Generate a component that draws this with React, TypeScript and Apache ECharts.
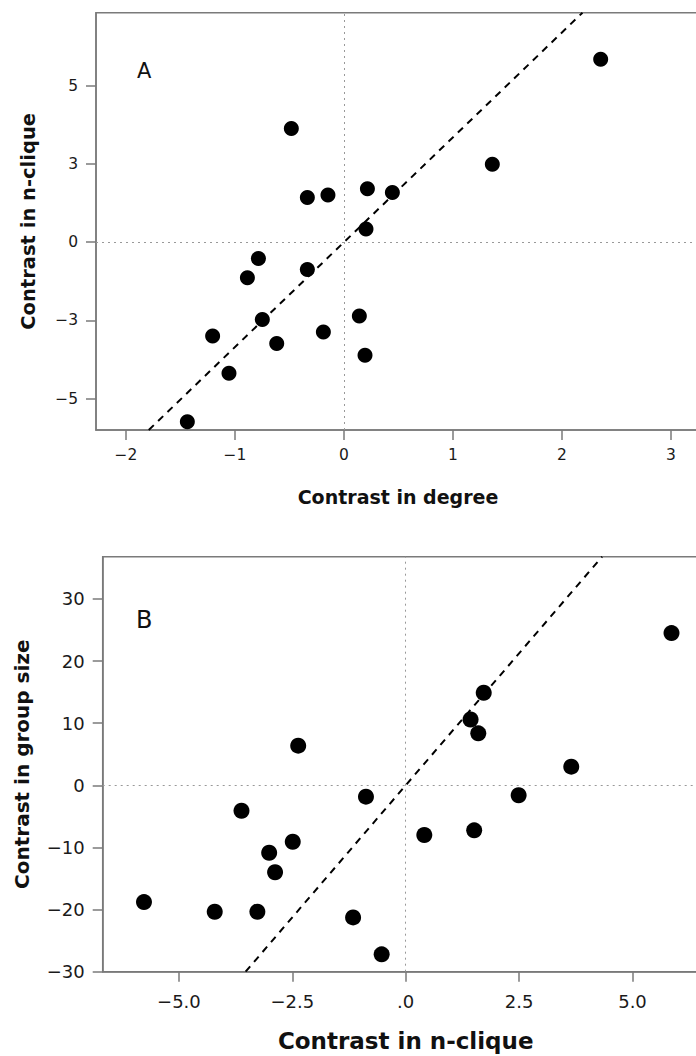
import React, { useEffect, useRef } from "react";
import * as echarts from "echarts";

// Panel A: contrast in degree (x) vs contrast in n-clique (y)
const degreeA = [-0.483, -0.336, -0.147, -0.785, -0.886, -0.336, -0.749, -1.205, -0.617, -0.189, -1.055, -1.437, 0.215, 0.444, 0.202, 1.361, 2.355, 0.141, 0.193];
const ncliqueA = [3.63, 1.43, 1.51, -0.52, -1.14, -0.87, -2.47, -3.0, -3.24, -2.87, -4.19, -5.74, 1.71, 1.59, 0.42, 2.49, 5.84, -2.36, -3.61];
const xTicksA = [-2, -1, 0, 1, 2, 3];
const xTickLabelsA = ["−2", "−1", "0", "1", "2", "3"];
const yTicksA = [-5, -2.5, 0, 2.5, 5];
const yTickLabelsA = ["−5", "−3", "0", "3", "5"];
const fitA = { slope: 3.35, intercept: 0 };
const rangeA = { xMin: -2.275, xMax: 3.413, yMin: -6.0, yMax: 7.33 };

// Panel B: contrast in n-clique (x) vs contrast in group size (y)
const ncliqueB = [-5.77, -4.21, -3.27, -3.62, -3.01, -2.88, -2.49, -2.37, -1.16, -0.876, -0.53, 0.41, 1.51, 1.43, 1.6, 1.72, 2.49, 3.65, 5.86];
const groupSizeB = [-18.8, -20.35, -20.35, -4.09, -10.85, -14.0, -9.08, 6.38, -21.26, -1.83, -27.2, -8.0, -7.25, 10.6, 8.37, 14.9, -1.6, 3.0, 24.5];
const xTicksB = [-5, -2.5, 0, 2.5, 5];
const xTickLabelsB = ["−5.0", "−2.5", ".0", "2.5", "5.0"];
const yTicksB = [-30, -20, -10, 0, 10, 20, 30];
const yTickLabelsB = ["−30", "−20", "−10", "0", "10", "20", "30"];
const fitB = { slope: 8.5, intercept: 0 };
const rangeB = { xMin: -6.68, xMax: 6.68, yMin: -30, yMax: 36.8 };

const FONT = "DejaVu Sans";
const AXIS_COLOR = "#7a7a7a";

function lookup(ticks: number[], labels: string[]) {
  return (v: number) => {
    const i = ticks.findIndex((t) => Math.abs(t - v) < 1e-6);
    return i >= 0 ? labels[i] : "";
  };
}

function fitLine(fit: { slope: number; intercept: number }, r: { xMin: number; xMax: number; yMin: number; yMax: number }) {
  const x0 = Math.max(r.xMin, (r.yMin - fit.intercept) / fit.slope);
  const x1 = Math.min(r.xMax, (r.yMax - fit.intercept) / fit.slope);
  return [
    [x0, fit.intercept + fit.slope * x0],
    [x1, fit.intercept + fit.slope * x1],
  ];
}

function makeX(gridIndex: number, r: any, ticks: number[], labels: string[], name: string, fs: number, nfs: number, gap: number, lm: number, namePad: number[]) {
  return {
    type: "value",
    gridIndex,
    min: r.xMin,
    max: r.xMax,
    name,
    nameLocation: "middle",
    nameGap: gap,
    nameTextStyle: { fontFamily: FONT, fontWeight: "bold", fontSize: nfs, color: "#111", padding: namePad },
    axisLine: { show: true, onZero: false, lineStyle: { color: AXIS_COLOR, width: 1.5 } },
    axisTick: { show: true, inside: false, length: 10, customValues: ticks, lineStyle: { color: AXIS_COLOR, width: 1.5 } },
    axisLabel: { customValues: ticks, formatter: lookup(ticks, labels), fontFamily: FONT, fontSize: fs, color: "#1a1a1a", margin: lm },
    splitLine: { show: false },
  };
}

function makeY(gridIndex: number, r: any, ticks: number[], labels: string[], name: string, fs: number, nfs: number, gap: number, lm: number) {
  return {
    type: "value",
    gridIndex,
    min: r.yMin,
    max: r.yMax,
    name,
    nameLocation: "middle",
    nameRotate: 90,
    nameGap: gap,
    nameTextStyle: { fontFamily: FONT, fontWeight: "bold", fontSize: nfs, color: "#111" },
    axisLine: { show: true, onZero: false, lineStyle: { color: AXIS_COLOR, width: 1.5 } },
    axisTick: { show: true, inside: false, length: 10, customValues: ticks, lineStyle: { color: AXIS_COLOR, width: 1.5 } },
    axisLabel: { customValues: ticks, formatter: lookup(ticks, labels), fontFamily: FONT, fontSize: fs, color: "#1a1a1a", margin: lm },
    splitLine: { show: false },
  };
}

const zeroLines = {
  silent: true,
  symbol: "none",
  label: { show: false },
  lineStyle: { color: "#999", width: 1, type: [2, 4] },
  data: [{ xAxis: 0 }, { yAxis: 0 }],
};

export default function App() {
  const ref = useRef<HTMLDivElement>(null);
  useEffect(() => {
    if (!ref.current) return;
    const chart = echarts.init(ref.current, null, { renderer: "svg" });
    chart.setOption({
      animation: false,
      backgroundColor: "#fff",
      grid: [
        { left: 96, top: 12.7, width: 620, height: 417.3, show: true, borderColor: AXIS_COLOR, borderWidth: 1.5, backgroundColor: "transparent" },
        { left: 102.7, top: 556.7, width: 606, height: 415, show: true, borderColor: AXIS_COLOR, borderWidth: 1.5, backgroundColor: "transparent" },
      ],
      xAxis: [
        makeX(0, rangeA, xTicksA, xTickLabelsA, "Contrast in degree", 15.5, 19, 57, 17, [0, 16, 0, 0]),
        makeX(1, rangeB, xTicksB, xTickLabelsB, "Contrast in n-clique", 18, 23, 58, 21, [0, 0, 0, 0]),
      ],
      yAxis: [
        makeY(0, rangeA, yTicksA, yTickLabelsA, "Contrast in n-clique", 15.5, 19.5, 58, 18),
        makeY(1, rangeB, yTicksB, yTickLabelsB, "Contrast in group size", 18, 20, 71, 18),
      ],
      graphic: [
        { type: "text", left: 137, top: 60, style: { text: "A", fontFamily: FONT, fontSize: 21, fill: "#111" } },
        { type: "text", left: 136, top: 608, style: { text: "B", fontFamily: FONT, fontSize: 24, fill: "#111" } },
      ],
      series: [
        {
          type: "scatter",
          xAxisIndex: 0,
          yAxisIndex: 0,
          symbolSize: 15,
          itemStyle: { color: "#000", opacity: 1 },
          data: degreeA.map((x, i) => [x, ncliqueA[i]]),
          markLine: zeroLines,
          z: 3,
        },
        {
          type: "line",
          xAxisIndex: 0,
          yAxisIndex: 0,
          showSymbol: false,
          symbol: "none",
          lineStyle: { color: "#000", width: 2, type: [7, 6] },
          data: fitLine(fitA, rangeA),
          z: 2,
        },
        {
          type: "scatter",
          xAxisIndex: 1,
          yAxisIndex: 1,
          symbolSize: 16,
          itemStyle: { color: "#000", opacity: 1 },
          data: ncliqueB.map((x, i) => [x, groupSizeB[i]]),
          markLine: zeroLines,
          z: 3,
        },
        {
          type: "line",
          xAxisIndex: 1,
          yAxisIndex: 1,
          showSymbol: false,
          symbol: "none",
          lineStyle: { color: "#000", width: 2, type: [7, 6] },
          data: fitLine(fitB, rangeB),
          z: 2,
        },
      ],
    });
    return () => chart.dispose();
  }, []);
  return (
    <div style={{ position: "absolute", left: 0, top: 0, width: 696, height: 1056, overflow: "hidden", background: "#fff" }}>
      <div ref={ref} style={{ width: 724, height: 1056 }} />
    </div>
  );
}
